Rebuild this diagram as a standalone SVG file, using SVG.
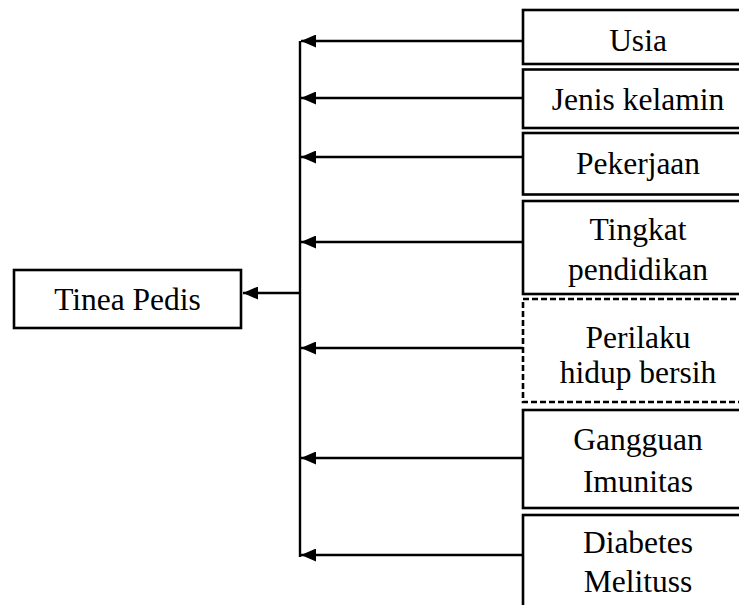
<svg xmlns="http://www.w3.org/2000/svg" width="739" height="605" viewBox="0 0 739 605">
<style>
.box{fill:#fff;stroke:#000;stroke-width:2.6}
.dash{stroke-dasharray:6 3}
.t{font-family:"Liberation Serif","Times New Roman",serif;font-size:31.5px;fill:#000;text-anchor:middle}
.ln{stroke:#000;stroke-width:2.4;fill:none}
</style>
<defs>
<marker id="ah" markerWidth="15" markerHeight="13" refX="15" refY="6.5" orient="auto" markerUnits="userSpaceOnUse">
<path d="M0,0 L15,6.5 L0,13 z" fill="#000"/>
</marker>
</defs>
<rect width="739" height="605" fill="#fff"/>
<g id="connectors">
<line class="ln" x1="300" y1="41" x2="300" y2="557"/>
<line class="ln" x1="300" y1="293" x2="243" y2="293" marker-end="url(#ah)"/>
<line class="ln" x1="523" y1="41" x2="301" y2="41" marker-end="url(#ah)"/>
<line class="ln" x1="523" y1="98" x2="301" y2="98" marker-end="url(#ah)"/>
<line class="ln" x1="523" y1="157" x2="301" y2="157" marker-end="url(#ah)"/>
<line class="ln" x1="523" y1="242" x2="301" y2="242" marker-end="url(#ah)"/>
<line class="ln" x1="523" y1="348" x2="301" y2="348" marker-end="url(#ah)"/>
<line class="ln" x1="523" y1="458" x2="301" y2="458" marker-end="url(#ah)"/>
<line class="ln" x1="523" y1="555" x2="301" y2="555" marker-end="url(#ah)"/>
</g>
<g id="tinea">
<rect class="box" x="14" y="270" width="227" height="58"/>
<text class="t" x="127.5" y="310">Tinea Pedis</text>
</g>
<g id="usia">
<rect class="box" x="523" y="10" width="230" height="54"/>
<text class="t" x="638" y="51">Usia</text>
</g>
<g id="jenis">
<rect class="box" x="523" y="69.5" width="230" height="58.5"/>
<text class="t" x="638" y="110">Jenis kelamin</text>
</g>
<g id="pekerjaan">
<rect class="box" x="523" y="133" width="230" height="61.5"/>
<text class="t" x="638" y="174">Pekerjaan</text>
</g>
<g id="tingkat">
<rect class="box" x="523" y="201" width="230" height="93"/>
<text class="t" x="638" y="240">Tingkat</text>
<text class="t" x="638" y="280">pendidikan</text>
</g>
<g id="perilaku">
<rect class="box dash" x="523" y="299" width="230" height="103"/>
<text class="t" x="638" y="348">Perilaku</text>
<text class="t" x="638" y="383">hidup bersih</text>
</g>
<g id="gangguan">
<rect class="box" x="523" y="410" width="230" height="98"/>
<text class="t" x="638" y="450">Gangguan</text>
<text class="t" x="638" y="492">Imunitas</text>
</g>
<g id="diabetes">
<rect class="box" x="523" y="515" width="230" height="110"/>
<text class="t" x="638" y="553">Diabetes</text>
<text class="t" x="638" y="592">Melituss</text>
</g>
</svg>
